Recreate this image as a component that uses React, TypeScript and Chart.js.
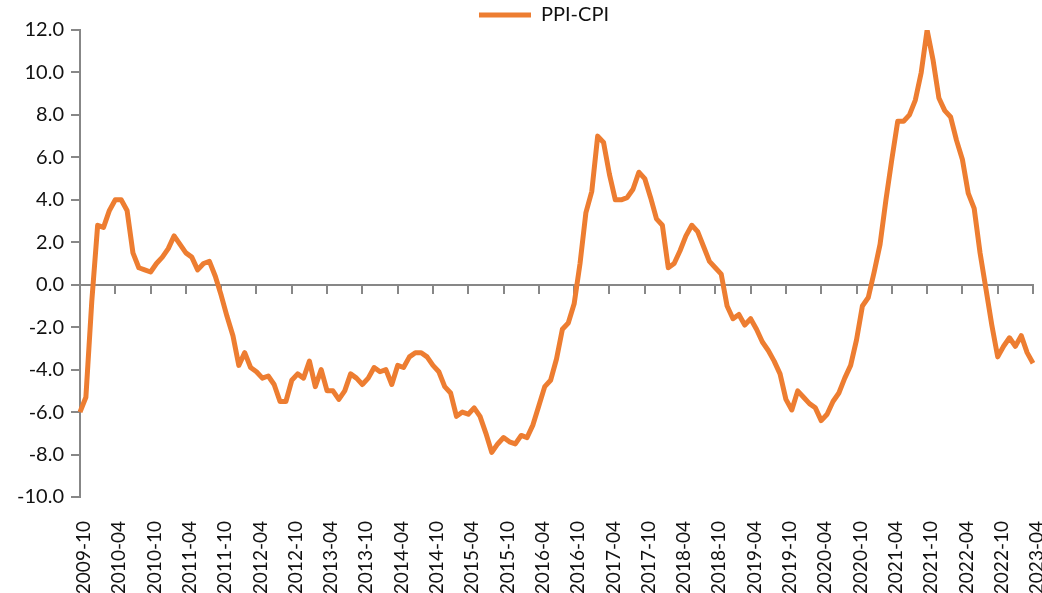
import React, { useEffect, useRef } from 'react';
import { Chart, registerables } from 'chart.js';

Chart.register(...registerables);

// ---- data ----
const START_YEAR = 2009;
const START_MONTH = 10; // 2009-10

const ppiCpi: number[] = [
  // 2009-10 .. 2009-12
  -6.0, -5.3, -0.8,
  // 2010
  2.8, 2.7, 3.5, 4.0, 4.0, 3.5, 1.5, 0.8, 0.7, 0.6, 1.0, 1.3,
  // 2011
  1.7, 2.3, 1.9, 1.5, 1.3, 0.7, 1.0, 1.1, 0.4, -0.5, -1.5, -2.4,
  // 2012
  -3.8, -3.2, -3.9, -4.1, -4.4, -4.3, -4.7, -5.5, -5.5, -4.5, -4.2, -4.4,
  // 2013
  -3.6, -4.8, -4.0, -5.0, -5.0, -5.4, -5.0, -4.2, -4.4, -4.7, -4.4, -3.9,
  // 2014
  -4.1, -4.0, -4.7, -3.8, -3.9, -3.4, -3.2, -3.2, -3.4, -3.8, -4.1, -4.8,
  // 2015
  -5.1, -6.2, -6.0, -6.1, -5.8, -6.2, -7.0, -7.9, -7.5, -7.2, -7.4, -7.5,
  // 2016
  -7.1, -7.2, -6.6, -5.7, -4.8, -4.5, -3.5, -2.1, -1.8, -0.9, 1.0, 3.4,
  // 2017
  4.4, 7.0, 6.7, 5.2, 4.0, 4.0, 4.1, 4.5, 5.3, 5.0, 4.1, 3.1,
  // 2018
  2.8, 0.8, 1.0, 1.6, 2.3, 2.8, 2.5, 1.8, 1.1, 0.8, 0.5, -1.0,
  // 2019
  -1.6, -1.4, -1.9, -1.6, -2.1, -2.7, -3.1, -3.6, -4.2, -5.4, -5.9, -5.0,
  // 2020
  -5.3, -5.6, -5.8, -6.4, -6.1, -5.5, -5.1, -4.4, -3.8, -2.6, -1.0, -0.6,
  // 2021
  0.6, 1.9, 4.0, 5.9, 7.7, 7.7, 8.0, 8.7, 10.0, 12.0, 10.6, 8.8,
  // 2022
  8.2, 7.9, 6.8, 5.9, 4.3, 3.6, 1.5, -0.2, -1.9, -3.4, -2.9, -2.5,
  // 2023
  -2.9, -2.4, -3.2, -3.7,
];

const months: string[] = ppiCpi.map((_, i) => {
  const m0 = START_MONTH - 1 + i;
  const y = START_YEAR + Math.floor(m0 / 12);
  const m = (m0 % 12) + 1;
  return `${y}-${m < 10 ? '0' + m : m}`;
});

const LABEL_STEP = 6;
const Y_MIN = -10;
const Y_MAX = 12;
const Y_STEP = 2;
const SERIES_NAME = 'PPI-CPI';

// ---- styles ----
const ORANGE = '#ED7D31';
const AXIS = '#878787';
const TEXT = '#111111';
const FONT = 'Lato, "Open Sans", "Liberation Sans", sans-serif';

export default function App() {
  const canvasRef = useRef<HTMLCanvasElement | null>(null);

  useEffect(() => {
    if (!canvasRef.current) return;
    const yFont = { family: FONT, size: 20 };
    const xFont = { family: FONT, size: 19 };
    const chart = new Chart(canvasRef.current, {
      type: 'line',
      data: {
        labels: months,
        datasets: [
          {
            label: SERIES_NAME,
            data: ppiCpi,
            borderColor: ORANGE,
            backgroundColor: ORANGE,
            borderWidth: 5,
            pointRadius: 0,
            pointHoverRadius: 0,
            tension: 0,
            fill: false,
            borderJoinStyle: 'round',
            xAxisID: 'x',
            yAxisID: 'y',
          },
        ],
      },
      options: {
        animation: false,
        responsive: true,
        maintainAspectRatio: false,
        events: [],
        layout: { padding: { left: 0, top: 0, right: -46, bottom: 0 } },
        plugins: {
          legend: {
            display: true,
            position: 'top',
            align: 'center',
            maxHeight: 30,
            labels: {
              boxWidth: 52,
              boxHeight: 5,
              padding: 5,
              font: { family: FONT, size: 20 },
              color: TEXT,
              generateLabels: (c: any) =>
                (Chart.defaults.plugins.legend.labels.generateLabels as any)(c).map((l: any) => ({
                  ...l,
                  lineWidth: 0,
                  fillStyle: ORANGE,
                })),
            },
          },
          tooltip: { enabled: false },
        },
        scales: {
          x: {
            type: 'category',
            position: 'bottom',
            grid: { display: false },
            border: { display: false },
            ticks: {
              autoSkip: false,
              minRotation: 90,
              maxRotation: 90,
              padding: 16,
              labelOffset: 4,
              font: xFont,
              color: TEXT,
              callback: (_v: any, i: number) => (i % LABEL_STEP === 0 ? months[i] : null),
            },
            afterFit: (s: any) => {
              s.height = 96;
              s.paddingLeft = 0;
              s.paddingRight = 9;
            },
          },
          x2: {
            type: 'category',
            position: { y: 0 },
            ticks: { display: false },
            grid: {
              drawOnChartArea: false,
              drawTicks: true,
              tickLength: 8,
              lineWidth: 2,
              color: AXIS,
              tickColor: (ctx: any) => (ctx.index % LABEL_STEP === 0 ? AXIS : 'rgba(0,0,0,0)'),
            },
            border: { display: true, color: AXIS, width: 2 },
          },
          y: {
            type: 'linear',
            position: 'left',
            min: Y_MIN,
            max: Y_MAX,
            ticks: {
              stepSize: Y_STEP,
              padding: 7,
              font: yFont,
              color: TEXT,
              callback: (v: any) => Number(v).toFixed(1),
            },
            grid: {
              drawOnChartArea: false,
              drawTicks: true,
              tickLength: 9,
              lineWidth: 2,
              color: AXIS,
            },
            border: { display: true, color: AXIS, width: 2 },
            afterFit: (s: any) => {
              s.width = 80;
            },
          },
        },
      } as any,
    });
    return () => chart.destroy();
  }, []);

  return (
    <div style={{ position: 'absolute', left: 0, top: 0, width: 1042, height: 593, background: '#ffffff' }}>
      <canvas ref={canvasRef} />
    </div>
  );
}
